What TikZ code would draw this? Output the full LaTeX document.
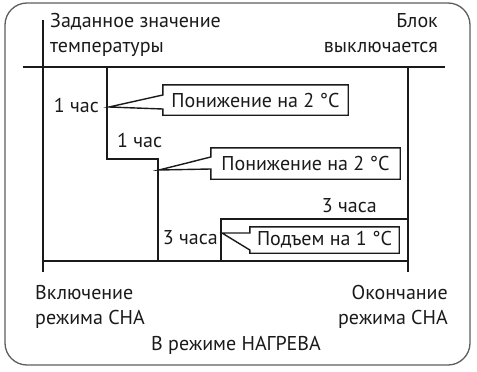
\documentclass[tikz,border=0pt]{standalone}
\usepackage{fontspec}
\setmainfont{PT Sans}
\usetikzlibrary{calc}
\definecolor{ink}{HTML}{1A1A1A}
\definecolor{framegray}{HTML}{5E5E5E}
\tikzset{
  every node/.style={font=\fontsize{20}{25}\selectfont, text=ink, inner sep=0pt},
  lbl/.style={align=left},
  rlbl/.style={align=right},
  axisline/.style={line width=2pt, draw=ink},
  curve/.style={line width=1.4pt, draw=ink},
  tagbox/.style={minimum width=#1, align=center},
}
\begin{document}
\begin{tikzpicture}[x=1pt, y=-1pt]
\useasboundingbox (0,0) rectangle (477,372);
\draw[framegray, line width=1.3pt, rounded corners=22pt] (5,3) rectangle (470,365);
% axes
\coordinate (ltop) at (43,20);
\coordinate (lbot) at (43,272);
\coordinate (hl) at (23,67);
\coordinate (hr) at (445,67);
\coordinate (rtop) at (408,67);
\coordinate (rbot) at (408,272);
\coordinate (bl) at (43,261);
\coordinate (br) at (408,261);
\draw[axisline] (ltop) -- (lbot);
\draw[axisline] (hl) -- (hr);
\draw[axisline] (rtop) -- (rbot);
\draw[curve] (bl) -- (br);
% temperature steps
\coordinate (s0) at (107,67);
\coordinate (s1) at (107,159);
\coordinate (s2) at (158,159);
\coordinate (s3) at (158,261);
\coordinate (u0) at (221,261);
\coordinate (u1) at (221,219);
\coordinate (u2) at (408,219);
\draw[curve] (s0) -- (s1) -- (s2) -- (s3);
\draw[curve] (u0) -- (u1) -- (u2);
% labels
\node[lbl, anchor=north west] (setp) at (50,13) {Заданное значение\\температуры};
\node[rlbl, anchor=north east] (off) at (438,13) {Блок\\выключается};
\node[anchor=base east] (h1) at (99,112) {1 час};
\node[anchor=base west] (h2) at (117,147) {1 час};
\node[anchor=base east] (h3) at (377,212) {3 часа};
\node[anchor=base east] (h4) at (218,244) {3 часа};
\node[lbl, anchor=north west] (on) at (35,285) {Включение\\режима СНА};
\node[rlbl, anchor=north east] (end) at (448,285) {Окончание\\режима СНА};
\node[anchor=base] (mode) at (236,350) {В режиме НАГРЕВА};
% callouts
\node[tagbox=185pt, minimum height=30pt] (b1) at (255.5,100) {Понижение на 2 °C};
\node[tagbox=189pt, minimum height=31pt] (b2) at (305.5,163.5) {Понижение на 2 °C};
\node[tagbox=149pt, minimum height=26pt] (b3) at (324.5,240) {Подъем на 1 °C};
\coordinate (t1) at (109,107);
\coordinate (t2) at (159,170);
\coordinate (t3) at (222,233);
\draw[curve] (b1.north west) -- (b1.north east) -- (b1.south east) -- (b1.south west) -- ($(b1.west)+(0,9)$) -- (t1) -- ($(b1.west)+(0,-5)$) -- cycle;
\draw[curve] (b2.north west) -- (b2.north east) -- (b2.south east) -- (b2.south west) -- ($(b2.west)+(0,5.5)$) -- (t2) -- ($(b2.west)+(0,-6.5)$) -- cycle;
\draw[curve] (b3.north west) -- (b3.north east) -- (b3.south east) -- (b3.south west) -- ($(b3.west)+(0,10)$) -- (t3) -- ($(b3.west)+(0,-7)$) -- cycle;
\end{tikzpicture}
\end{document}
